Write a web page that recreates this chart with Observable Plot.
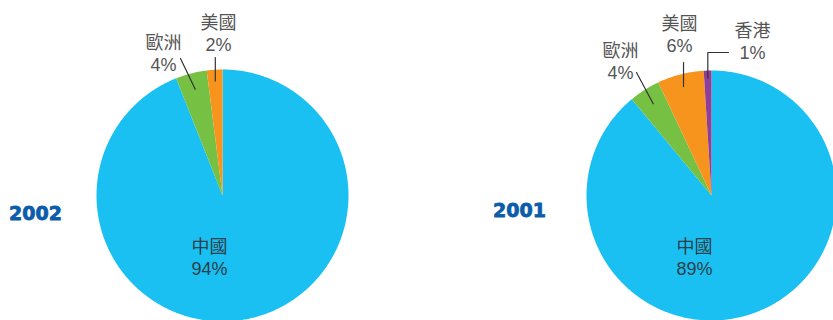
<!DOCTYPE html>
<html><head><meta charset="utf-8">
<script src="https://cdn.jsdelivr.net/npm/d3@7"></script>
<script src="https://cdn.jsdelivr.net/npm/@observablehq/plot@0.6"></script>
<style>body{margin:0;background:#fff;overflow:hidden}</style>
</head><body><div id="chart"></div>
<script>
// ---- data ----
const years = ["2002", "2001"];
const categories2002 = ["中國", "歐洲", "美國"];
const values2002 = [94, 4, 2];
const categories2001 = ["中國", "歐洲", "美國", "香港"];
const values2001 = [89, 4, 6, 1];
const colorDomain = ["中國", "歐洲", "美國", "香港"];
const colorRange = ["#19c0f1", "#76c043", "#f7941d", "#8f3f97"];

// ---- layout (pixel space) ----
const W = 833, H = 320;
const pieLayout = [
  {cx: 222, cy: 195, r: 126, yearPos: [35, 213],
   labels: {"中國": {pos: [209, 256.5]}, "歐洲": {pos: [163, 52], outer: [180, 58], frac: 0.87},
            "美國": {pos: [218, 32], outer: [null, 57], frac: 0.91}}},
  {cx: 711, cy: 195, r: 125, yearPos: [519, 210],
   labels: {"中國": {pos: [694, 256.5]}, "歐洲": {pos: [620, 60.5], outer: [636, 72], frac: 0.87},
            "美國": {pos: [679, 33], outer: [null, 62], frac: 0.9},
            "香港": {pos: [752, 40], outer: [null, 52], elbow: [728, 52], frac: 0.94}}}
];
const seriesCats = [categories2002, categories2001];
const seriesVals = [values2002, values2001];

const slicePts = [], leaderPts = [], labels = [], yearLabels = [];
years.forEach((yr, i) => {
  const L = pieLayout[i];
  const rows = seriesCats[i].map((c, j) => ({cat: c, val: seriesVals[i][j]}));
  const arcs = d3.pie().sort(null).value(d => d.val)(rows);
  arcs.forEach((a) => {
    const id = yr + "-" + a.data.cat;
    const pt = (ang, rr) => [L.cx + rr * Math.sin(ang), L.cy - rr * Math.cos(ang)];
    slicePts.push({id, cat: a.data.cat, x: L.cx, y: L.cy});
    const n = Math.max(2, Math.ceil((a.endAngle - a.startAngle) / 0.01));
    for (let s = 0; s <= n; s++) {
      const [x, y] = pt(a.startAngle + (a.endAngle - a.startAngle) * s / n, L.r);
      slicePts.push({id, cat: a.data.cat, x, y});
    }
    const lab = L.labels[a.data.cat];
    labels.push({x: lab.pos[0], y: lab.pos[1], text: a.data.cat + "\n" + a.data.val + "%", inner: a.data.cat === "中國"});
    if (lab.outer) {
      const mid = (a.startAngle + a.endAngle) / 2;
      const [ix, iy] = pt(mid, L.r * lab.frac);
      const ox = lab.outer[0] == null ? ix : lab.outer[0];
      if (lab.elbow) leaderPts.push({id, x: lab.elbow[0], y: lab.elbow[1]});
      leaderPts.push({id, x: ox, y: lab.outer[1]});
      leaderPts.push({id, x: ix, y: iy});
    }
  });
  yearLabels.push({x: L.yearPos[0], y: L.yearPos[1], text: yr});
});

const labelFont = "'Liberation Sans', 'Noto Sans CJK TC', sans-serif";
const chart = Plot.plot({
  width: W, height: H,
  margin: 0,
  x: {domain: [0, W], range: [0, W], axis: null},
  y: {domain: [0, H], range: [0, H], axis: null},
  color: {domain: colorDomain, range: colorRange},
  marks: [
    Plot.line(slicePts, {x: "x", y: "y", z: "id", fill: "cat", stroke: "none", curve: "linear-closed"}),
    Plot.line(leaderPts, {x: "x", y: "y", z: "id", stroke: "#333", strokeWidth: 1.2}),
    Plot.text(labels.filter(d => !d.inner), {x: "x", y: "y", text: "text", fontSize: 18, lineHeight: 1.22,
      fill: "#555555", fontFamily: labelFont}),
    Plot.text(labels.filter(d => d.inner), {x: "x", y: "y", text: "text", fontSize: 18, lineHeight: 1.22,
      fill: "#2b3f4a", fontFamily: labelFont}),
    Plot.text(yearLabels, {x: "x", y: "y", text: "text", fontSize: 19, fontWeight: "bold",
      fill: "#0b5cab", stroke: "#0b5cab", strokeWidth: 0.8, fontFamily: "DejaVu Sans"})
  ]
});
document.getElementById("chart").append(chart);
</script>
</body></html>
